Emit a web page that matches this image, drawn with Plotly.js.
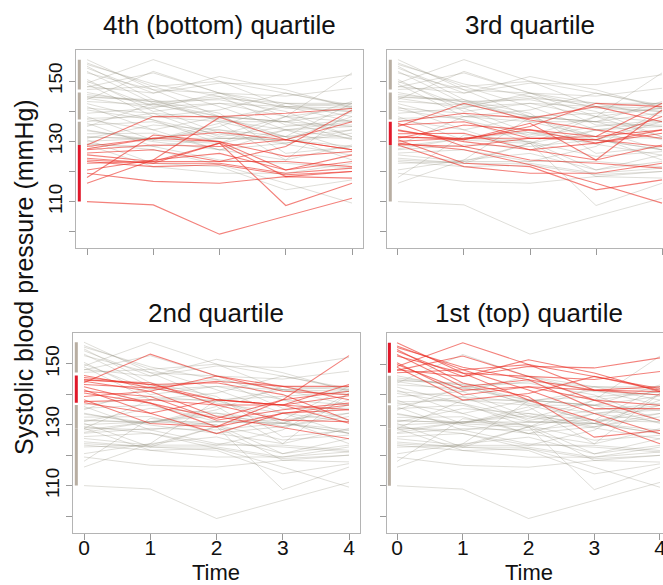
<!DOCTYPE html>
<html><head><meta charset="utf-8">
<script src="https://cdn.plot.ly/plotly-3.0.1.min.js"></script>
<style>html,body{margin:0;padding:0;overflow:hidden;background:#fff}#chart{width:675px;height:585px}</style>
</head><body><div id="chart"></div>
<script>
// ---- data (systolic blood pressure, mmHg, at times 0..4) ----
const timePoints = [0, 1, 2, 3, 4];
const xTickLabels = ["0", "1", "2", "3", "4"];
const yTickValues = [100, 110, 120, 130, 140, 150];
const yTickLabels = ["", "110", "", "130", "", "150"];
const panelTitles = ["4th (bottom) quartile", "3rd quartile", "2nd quartile", "1st (top) quartile"];
const xTitle = "Time";
const yTitle = "Systolic blood pressure (mmHg)";

// subjects grouped by quartile of baseline value
const q4Subjects = [
  [110, 108.9, 99.2, 105.1, 111.1],
  [128.8, 138.2, 138.2, 139.3, 140.9],
  [119.4, 116.7, 116.1, 118.3, 117.8],
  [116.1, 123.8, 138, 130.5, 127.2],
  [123.8, 122.7, 129.4, 108.7, 116.1],
  [128.3, 131, 129.9, 120.5, 125.5],
  [127.2, 128.8, 128.3, 130.5, 127.2],
  [126.1, 127.2, 123.3, 128.3, 140.4],
  [124.4, 122.7, 122.7, 119.4, 121.1],
  [123.3, 121.6, 122.2, 118.9, 120],
  [122.7, 123.3, 123.3, 123.3, 121.6],
  [120.5, 123.8, 126, 120.5, 123.3],
  [118, 132.1, 129.9, 125, 126.6],
  [127.5, 131, 133, 130.5, 136.5],
  [125.5, 123.3, 129.4, 118.3, 120]
];
const q3Subjects = [
  [134.9, 142.6, 137.1, 133.8, 131],
  [131.6, 130.5, 134.9, 142.6, 141.5],
  [136.5, 139.3, 137.6, 141.5, 136.5],
  [129.4, 127.2, 122.2, 116.1, 109.5],
  [131.3, 131, 131, 130.5, 138.2],
  [133.8, 129.9, 127.2, 129.4, 133.8],
  [131, 135.4, 133.8, 131.6, 142.6],
  [128.8, 121.6, 119.4, 119.4, 122.7],
  [132.5, 132.7, 127.2, 123.8, 128.8],
  [130.5, 122.7, 121.6, 113.9, 117.2],
  [135.4, 136.5, 131, 130.5, 128.3],
  [136, 128.3, 123.8, 122.7, 121.1],
  [130, 131, 133.8, 129.4, 132.7],
  [133.5, 130.5, 136, 123.8, 140.4],
  [129, 128.3, 131, 131.6, 133.8]
];
const q2Subjects = [
  [143.8, 153.2, 146, 142.6, 138.2],
  [140.4, 137.1, 132.1, 138.2, 152.7],
  [144.9, 143.2, 143.8, 139.9, 131.5],
  [144.3, 141, 132.7, 129, 125.4],
  [146.2, 142.1, 138.2, 136.5, 143.2],
  [143.2, 142.1, 144.3, 142.6, 142.6],
  [141.5, 133.8, 127.1, 133.8, 134.9],
  [141, 139.3, 131.5, 134.9, 137.1],
  [138.2, 130.4, 129.3, 133.8, 136.5],
  [139.3, 141, 146, 141, 139.9],
  [137.6, 138.2, 136.5, 131.5, 131],
  [142.5, 137.1, 129.3, 138.2, 141],
  [144.6, 143.8, 136.5, 136.5, 134.9],
  [145.5, 143.2, 138.2, 136.5, 130.5],
  [137.2, 133.8, 138.2, 136.5, 139.5]
];
const q1Subjects = [
  [149.3, 157.1, 149.9, 146, 142],
  [148.2, 146, 149.3, 148.8, 152.1],
  [157.1, 147.1, 138.2, 131.5, 123.8],
  [156, 148.2, 141.5, 133.8, 127.1],
  [154.9, 143.8, 139.3, 126, 128.2],
  [154.3, 146, 151.5, 147.1, 141],
  [153.2, 142.6, 144.9, 141.5, 139.9],
  [149.9, 141.5, 142.6, 138.2, 136.5],
  [152.7, 147.1, 146, 138.2, 131.5],
  [149, 138.2, 140.4, 146, 141.5],
  [148, 152.7, 146, 145, 147.6],
  [155.5, 149, 144.9, 135.4, 135.4],
  [150.5, 139.9, 142.6, 141.5, 142.6],
  [147.2, 148.2, 149.9, 141.5, 141]
];

// ---- build ----
const groups = [q4Subjects, q3Subjects, q2Subjects, q1Subjects]; // panel i highlights groups[i]
const W = 675, H = 585;
const GRAY = 'rgba(150,145,130,0.30)';
const RED = 'rgba(235,45,35,0.60)';
const RUG_GRAY = '#b8aea2';
const RUG_RED = '#e0182a';
const rugX = -0.116;

const traces = [];
for (let p = 0; p < 4; p++) {
  const xa = p === 0 ? 'x' : 'x' + (p + 1);
  const ya = p === 0 ? 'y' : 'y' + (p + 1);
  groups.forEach((g, gi) => {
    if (gi === p) return;
    g.forEach(s => traces.push({x: timePoints, y: s, xaxis: xa, yaxis: ya, mode: 'lines',
      line: {color: GRAY, width: 1}, hoverinfo: 'skip', showlegend: false}));
  });
  groups[p].forEach(s => traces.push({x: timePoints, y: s, xaxis: xa, yaxis: ya, mode: 'lines',
    line: {color: RED, width: 1.1}, hoverinfo: 'skip', showlegend: false}));
  groups.forEach((g, gi) => {
    const base = g.map(s => s[0]);
    traces.push({x: [rugX, rugX], y: [Math.min(...base), Math.max(...base)], xaxis: xa, yaxis: ya,
      mode: 'lines', line: {color: gi === p ? RUG_RED : RUG_GRAY, width: 3}, hoverinfo: 'skip', showlegend: false});
  });
}

const px = v => v / W, py = v => 1 - v / H;
const panels = [
  {x0: 76.4, x1: 362.6, y0: 50, y1: 248, xl: false, yl: true},
  {x0: 387.4, x1: 672.6, y0: 50, y1: 248, xl: false, yl: false},
  {x0: 73.4, x1: 359.6, y0: 332.5, y1: 532.5, xl: true, yl: true},
  {x0: 386.5, x1: 670.5, y0: 333, y1: 532.5, xl: true, yl: false}
];
const layout = {
  width: W, height: H, margin: {l: 0, r: 0, t: 0, b: 0},
  paper_bgcolor: '#fff', plot_bgcolor: '#fff',
  font: {family: 'Liberation Sans, Arial, sans-serif', color: '#111'},
  showlegend: false, annotations: []
};
panels.forEach((pn, i) => {
  const s = i === 0 ? '' : String(i + 1);
  layout['xaxis' + s] = {
    domain: [px(pn.x0), px(pn.x1)], range: [-0.16, 4.16], anchor: 'y' + s,
    tickvals: timePoints, ticktext: xTickLabels, showticklabels: pn.xl,
    ticks: 'outside', ticklen: 6, tickcolor: '#9a9a9a', tickwidth: 1, ticklabelstandoff: -10,
    showline: true, mirror: true, linecolor: '#b4b4b4', linewidth: 1,
    showgrid: false, zeroline: false, tickfont: {size: 21, color: '#111'}, fixedrange: true
  };
  layout['yaxis' + s] = {
    domain: [py(pn.y1), py(pn.y0)], range: [94.6, 160.3], anchor: 'x' + s,
    tickvals: yTickValues, ticktext: yTickLabels, showticklabels: pn.yl, tickangle: -90,
    ticks: 'outside', ticklen: 6, tickcolor: '#9a9a9a', tickwidth: 1,
    showline: true, mirror: true, linecolor: '#b4b4b4', linewidth: 1,
    showgrid: false, zeroline: false, tickfont: {size: 19, color: '#111'}, fixedrange: true
  };
  const titleY = i < 2 ? 25 : 313;
  layout.annotations.push({text: panelTitles[i], xref: 'paper', yref: 'paper',
    x: px((pn.x0 + pn.x1) / 2), y: py(titleY), xanchor: 'center', yanchor: 'middle',
    showarrow: false, font: {size: 26, color: '#111'}});
  if (pn.xl) layout.annotations.push({text: xTitle, xref: 'paper', yref: 'paper',
    x: px((pn.x0 + pn.x1) / 2), y: py(572), xanchor: 'center', yanchor: 'middle',
    showarrow: false, font: {size: 22, color: '#111'}});
});
layout.annotations.push({text: yTitle, xref: 'paper', yref: 'paper', x: px(24), y: py(277),
  xanchor: 'center', yanchor: 'middle', textangle: -90, showarrow: false, font: {size: 25, color: '#111'}});

Plotly.newPlot('chart', traces, layout, {displayModeBar: false, staticPlot: true});
</script></body></html>
